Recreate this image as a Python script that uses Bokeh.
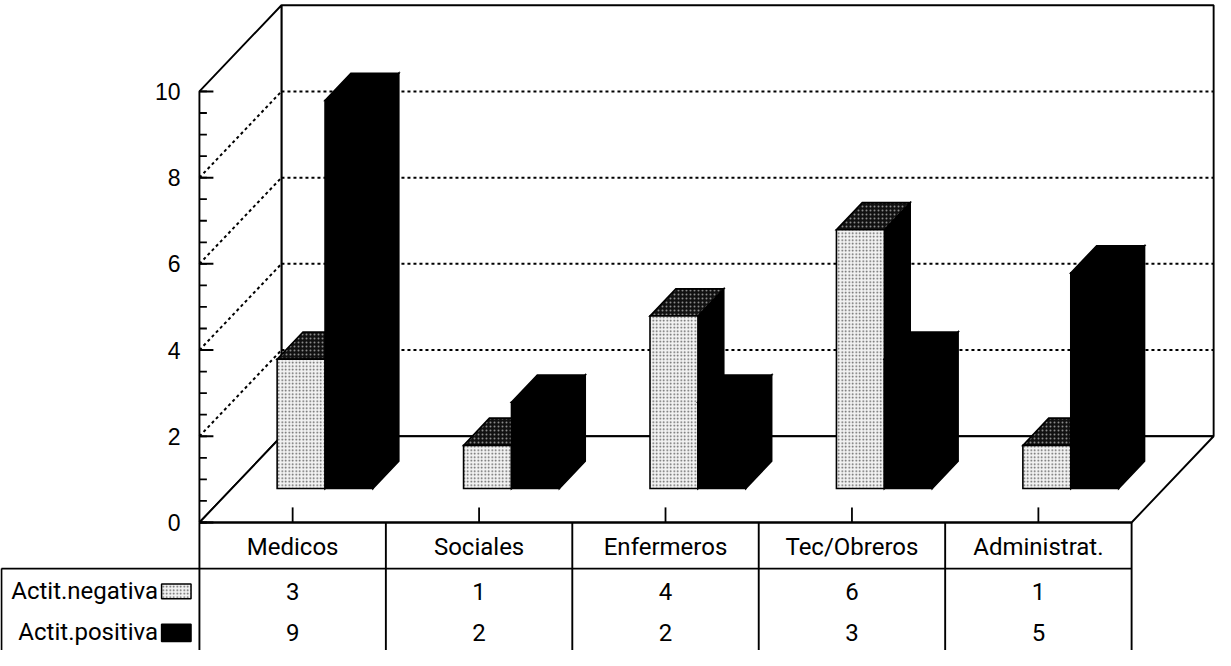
from bokeh.plotting import figure
from bokeh.models import Range1d, ColumnDataSource
from bokeh.embed import file_html
from bokeh.resources import INLINE
from bokeh.core.properties import value

# ---------------- data ----------------
categories = ["Medicos", "Sociales", "Enfermeros", "Tec/Obreros", "Administrat."]
negativa = [3, 1, 4, 6, 1]
positiva = [9, 2, 2, 3, 5]
series_names = ["Actit.negativa", "Actit.positiva"]
y_ticks = [0, 2, 4, 6, 8, 10]
y_tick_labels = ["0", "2", "4", "6", "8", "10"]
grid_values = [2, 4, 6, 8]

# ---------------- geometry (data units) ----------------
DX, DY = 0.44, 2.0          # depth offset of the floor (x in categories, y in values)
T0, T1 = 0.395, 0.71        # bar depth (fraction of floor depth)
BW = 0.257                  # width of one bar
TOP = 10                    # wall height
NC = len(categories)
FONT = value("Roboto")

def P(x, v, t):
    return x + t * DX, v + t * DY

def poly(pts):
    xs, ys = zip(*[P(*q) for q in pts])
    return list(xs), list(ys)

p = figure(width=1215, height=650, x_range=Range1d(-1.067, 5.45),
           y_range=Range1d(-2.97, 12.11), toolbar_location=None,
           output_backend="svg", min_border=0)
p.axis.visible = False
p.grid.visible = False
p.outline_line_color = None
p.background_fill_color = "white"

LW = 1.9
# ---------------- walls and floor ----------------
walls = [
    poly([(0, 0, 1), (NC, 0, 1), (NC, TOP, 1), (0, TOP, 1)]),      # back wall
    poly([(0, 0, 0), (0, TOP, 0), (0, TOP, 1), (0, 0, 1)]),        # left wall
    poly([(0, 0, 0), (NC, 0, 0), (NC, 0, 1), (0, 0, 1)]),          # floor
]
p.patches([w[0] for w in walls], [w[1] for w in walls], fill_color="white",
          line_color="black", line_width=LW)

# dashed gridlines on back wall and left wall
gx0, gy0, gx1, gy1 = [], [], [], []
for v in grid_values:
    a = P(0, v, 1); b = P(NC, v, 1)
    gx0.append(a[0]); gy0.append(a[1]); gx1.append(b[0]); gy1.append(b[1])
    a = P(0, v, 0); b = P(0, v, 1)
    gx0.append(a[0]); gy0.append(a[1]); gx1.append(b[0]); gy1.append(b[1])
p.segment(gx0, gy0, gx1, gy1, line_color="black", line_width=2, line_dash="3 3")

# category ticks on the floor's front edge
cx = [i + 0.5 for i in range(NC)]
p.segment(cx, [0] * NC, cx, [0.35] * NC, line_color="black", line_width=1.8)

# ---------------- bars ----------------
def bar_faces(x0, x1, h):
    side = poly([(x1, 0, T0), (x1, 0, T1), (x1, h, T1), (x1, h, T0)])
    top = poly([(x0, h, T0), (x1, h, T0), (x1, h, T1), (x0, h, T1)])
    front = poly([(x0, 0, T0), (x1, 0, T0), (x1, h, T0), (x0, h, T0)])
    return side, top, front

neg_side, neg_top, neg_front = [], [], []
pos_side, pos_top, pos_front = [], [], []
for i in range(NC):
    c = i + 0.5
    s, t, f = bar_faces(c - BW, c, negativa[i])
    neg_side.append(s); neg_top.append(t); neg_front.append(f)
    s, t, f = bar_faces(c, c + BW, positiva[i])
    pos_side.append(s); pos_top.append(t); pos_front.append(f)

def draw(faces, **kw):
    p.patches([f[0] for f in faces], [f[1] for f in faces], line_color="black",
              line_width=1.6, line_join="miter", **kw)

draw(neg_side, fill_color="black")
draw(neg_top, fill_color="#111111", hatch_pattern=".", hatch_color="#8a8a8a",
     hatch_scale=4, hatch_weight=0.6)
draw(neg_front, fill_color="#f2f2f2", hatch_pattern=".", hatch_color="#5a5a5a",
     hatch_scale=3.5, hatch_weight=0.6)
draw(pos_side, fill_color="black")
draw(pos_top, fill_color="black")
draw(pos_front, fill_color="black")

# ---------------- value axis (front left edge) ----------------
minor = [k * 0.5 for k in range(0, 21)]
p.segment([0] * len(minor), minor, [0.04] * len(minor), minor, line_color="black", line_width=1.8)
p.segment([0] * len(y_ticks), y_ticks, [0.075] * len(y_ticks), y_ticks, line_color="black", line_width=2)
p.text([-0.101] * len(y_ticks), y_ticks, text=y_tick_labels, text_align="right",
       text_baseline="middle", text_font=value("Liberation Sans"), text_font_size="23px",
       text_color="black")

# ---------------- data table ----------------
H_ROW = -1.07     # bottom of header row
BOT = -2.97
LEFT = -1.062
tx0 = [0, 0, LEFT, LEFT] + list(range(NC + 1))
ty0 = [0, H_ROW, H_ROW, H_ROW] + [0] * (NC + 1)
tx1 = [NC, NC, 0, LEFT] + list(range(NC + 1))
ty1 = [0, H_ROW, H_ROW, BOT] + [BOT] * (NC + 1)
p.segment(tx0, ty0, tx1, ty1, line_color="black", line_width=LW)

tsrc = ColumnDataSource(dict(x=cx, cat=categories,
                             neg=[str(v) for v in negativa],
                             pos=[str(v) for v in positiva]))
common = dict(text_align="center", text_baseline="middle", text_font=FONT,
              text_font_size="24px", text_color="black", source=tsrc)
p.text("x", -0.58, text="cat", **common)
p.text("x", -1.6, text="neg", **common)
p.text("x", -2.55, text="pos", **common)

# legend labels and swatches
p.text([-0.222, -0.222], [-1.6, -2.55], text=series_names, text_align="right",
       text_baseline="middle", text_font=FONT, text_font_size="24px", text_color="black")
p.quad(left=[-0.203], right=[-0.045], bottom=[-1.77], top=[-1.43],
       fill_color="#f2f2f2", hatch_pattern=".", hatch_color="#5a5a5a",
       hatch_scale=3.5, hatch_weight=0.6, line_color="black", line_width=1.5)
p.quad(left=[-0.203], right=[-0.045], bottom=[-2.76], top=[-2.36],
       fill_color="black", line_color="black", line_width=1.5)

open("out.html", "w").write(file_html(p, INLINE))
